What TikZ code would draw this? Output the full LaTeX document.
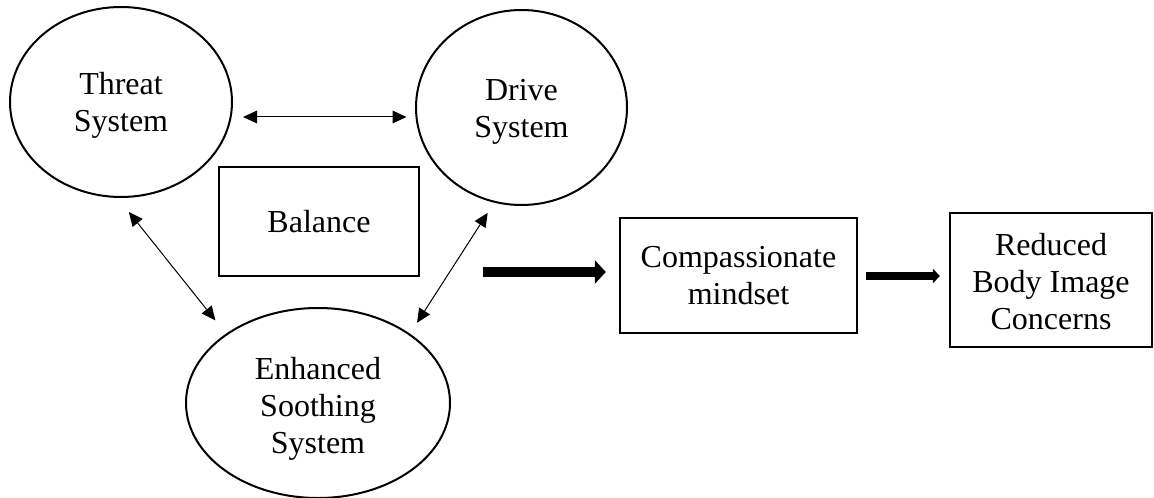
\documentclass[tikz,border=0pt]{standalone}
\usepackage{fontspec}
\setmainfont{Liberation Serif}
\usetikzlibrary{shapes.geometric,arrows.meta,calc}
\tikzset{
  txt/.style={align=center, font=\fontsize{16}{18.5}\selectfont, text=black},
  ell/.style={txt, ellipse, draw, line width=1pt, inner sep=0pt},
  bx/.style={txt, rectangle, draw, line width=1.25pt, inner sep=2pt},
  thinarr/.style={{Triangle[length=7pt,width=6.5pt,line width=0pt]}-{Triangle[length=7pt,width=6.5pt,line width=0pt]}, line width=0.5pt},
  bigarr/.style={-{Triangle[length=5.5pt,width=12pt,line width=0pt]}, line width=4.75pt},
  midarr/.style={-{Triangle[length=3.5pt,width=7.5pt,line width=0pt]}, line width=4pt}
}
\begin{document}
\begin{tikzpicture}[x=0.5pt,y=-0.5pt]
\useasboundingbox[fill=white] (0,0) rectangle (1154,497);
% nodes
\node[ell, minimum width=111pt, minimum height=95pt] (threat) at (121,102) {\rule{0pt}{14pt}Threat\\System};
\node[ell, minimum width=105.5pt, minimum height=97.5pt] (drive) at (521.5,107.5) {\rule{0pt}{15pt}Drive\\System};
\node[ell, minimum width=132pt, minimum height=95pt] (sooth) at (318,403) {\rule{0pt}{16.5pt}Enhanced\\Soothing\\System};
\node[bx, minimum width=100pt, minimum height=54.5pt] (bal) at (319,221.5) {Balance};
\node[bx, minimum width=118.5pt, minimum height=57.5pt] (comp) at (738.5,275.5) {Compassionate\\mindset};
\node[bx, minimum width=101pt, minimum height=67pt] (red) at (1051,280) {\rule{0pt}{12.5pt}Reduced\\Body Image\\Concerns};
% helper coordinates
\coordinate (ay) at (0,117);
\coordinate (a1) at (483,272);
\coordinate (a2) at (0,276);
% connectors
\draw[thinarr, shorten <=5pt, shorten >=4.25pt] (threat.east |- ay) -- (drive.west |- ay);
\draw[thinarr, shorten <=9pt, shorten >=8.5pt] (threat.-92) -- (sooth.143);
\draw[thinarr, shorten <=6pt, shorten >=6.5pt] (drive.-106) -- (sooth.37);
\draw[bigarr, shorten >=6.5pt] (a1) -- (comp.west |- a1);
\draw[midarr, shorten <=4pt, shorten >=4.5pt] (comp.east |- a2) -- (red.west |- a2);
\end{tikzpicture}
\end{document}
